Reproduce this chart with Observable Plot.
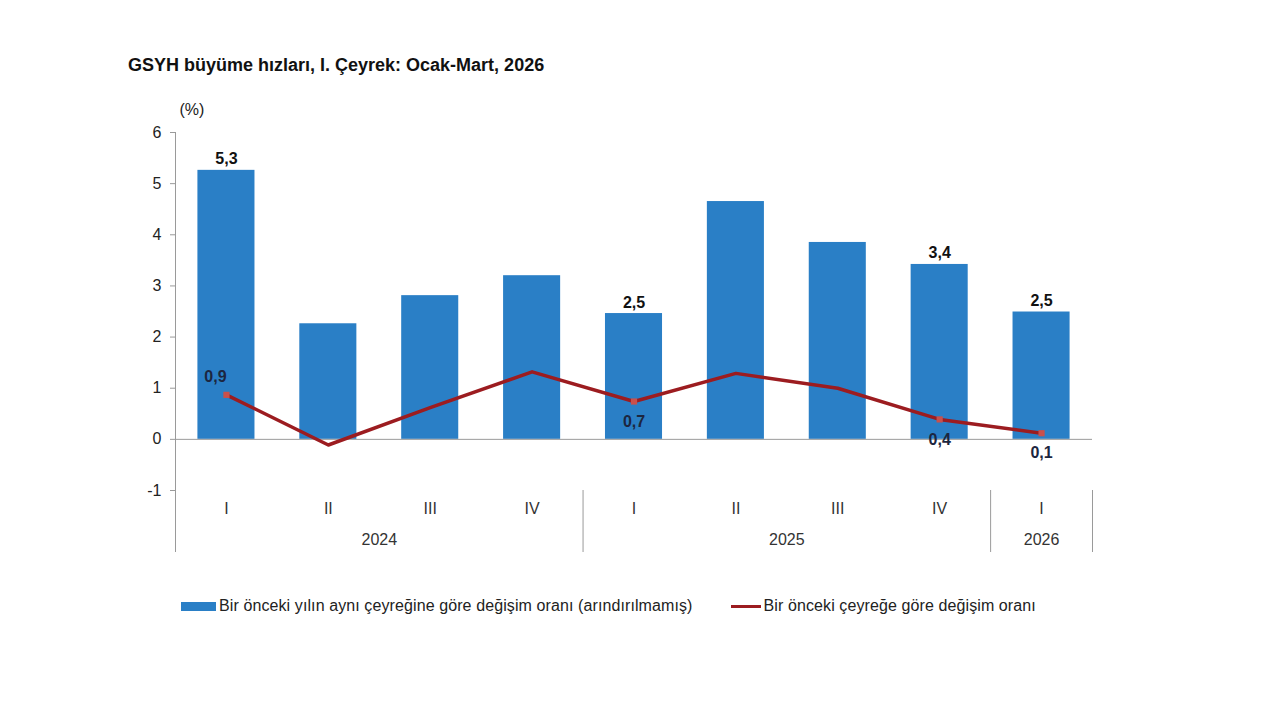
<!DOCTYPE html>
<html>
<head>
<meta charset="utf-8">
<script src="https://cdn.jsdelivr.net/npm/d3@7"></script>
<script src="https://cdn.jsdelivr.net/npm/@observablehq/plot@0.6"></script>
<style>
  html, body { margin: 0; padding: 0; background: #fff; }
  #wrap { position: relative; width: 1280px; height: 720px; font-family: Arial, "Liberation Sans", sans-serif; }
  #title { position: absolute; left: 128px; top: 55px; font-size: 18px; font-weight: bold; color: #111; }
  #chart { position: absolute; left: 0; top: 0; }
  #legend { position: absolute; left: 181px; top: 597px; font-size: 16px; color: #222; display: flex; align-items: center; }
  .sw { display: inline-block; margin-right: 3px; }
</style>
</head>
<body>
<div id="wrap">
  <div id="chart"></div>
  <div id="title">GSYH büyüme hızları, I. Çeyrek: Ocak-Mart, 2026</div>
  <div id="legend">
    <span class="sw" style="width:35px;height:9px;background:#2a7fc6"></span>
    <span style="letter-spacing:0.1px">Bir önceki yılın aynı çeyreğine göre değişim oranı (arındırılmamış)</span>
    <span class="sw" style="width:30px;height:3px;background:#9c1c20;margin-left:38px"></span>
    <span style="letter-spacing:0.1px">Bir önceki çeyreğe göre değişim oranı</span>
  </div>
</div>
<script>
const quarters = ["I", "II", "III", "IV", "I", "II", "III", "IV", "I"];
const years = ["2024", "2025", "2026"];
const yearStart = [0, 4, 8];
const yearEnd = [4, 8, 9];
const annualChange = [5.26, 2.26, 2.81, 3.20, 2.46, 4.65, 3.85, 3.42, 2.49];
const quarterlyChange = [0.87, -0.11, 0.62, 1.32, 0.74, 1.29, 1.00, 0.39, 0.12];
const labeled = [0, 4, 7, 8];
const yTicks = [-1, 0, 1, 2, 3, 4, 5, 6];

const fmt = v => v.toFixed(1).replace(".", ",");
const data = quarters.map((q, i) => ({i, q, bar: annualChange[i], line: quarterlyChange[i]}));
const lab = data.filter(d => labeled.includes(d.i));
const yearData = years.map((y, k) => ({y, mid: (yearStart[k] + yearEnd[k]) / 2}));
const bounds = [0, ...yearEnd];

const chart = Plot.plot({
  width: 1280,
  height: 720,
  marginLeft: 175,
  marginRight: 188,
  marginTop: 132,
  marginBottom: 230,
  style: {fontFamily: "Arial, 'Liberation Sans', sans-serif", fontSize: "16px", color: "#222"},
  x: {domain: [0, 9], axis: null, label: null},
  y: {domain: [-1, 6], axis: null, label: null},
  marks: [
    Plot.rect(data, {x1: d => d.i + 0.22, x2: d => d.i + 0.78, y1: 0, y2: "bar", fill: "#2a7fc6"}),
    Plot.ruleY([0], {stroke: "#9a9a9a", strokeWidth: 1}),
    Plot.ruleX([0], {stroke: "#9a9a9a", strokeWidth: 1}),
    Plot.axisY({ticks: yTicks, tickSize: 5, tickPadding: 9, tickFormat: d => String(d), stroke: "#9a9a9a", fontSize: 16, fill: "#222", label: null}),
    Plot.axisX({ticks: bounds, tickSize: 62, tickFormat: () => "", stroke: "#9a9a9a", label: null}),
    Plot.text(data, {x: d => d.i + 0.5, frameAnchor: "bottom", dy: 23, text: "q", fontSize: 16, fill: "#333"}),
    Plot.text(yearData, {x: "mid", frameAnchor: "bottom", dy: 54, text: "y", fontSize: 16, fill: "#333"}),
    Plot.text(["(%)"], {frameAnchor: "top-left", dx: 4, dy: -29, fontSize: 16, fill: "#222"}),
    Plot.line(data, {x: d => d.i + 0.5, y: "line", stroke: "#9c1c20", strokeWidth: 3.5, strokeLinejoin: "round"}),
    Plot.dot(lab, {x: d => d.i + 0.5, y: "line", symbol: "square", r: 3.5, fill: "#c9504c"}),
    Plot.text(lab, {x: d => d.i + 0.5, y: "bar", text: d => fmt(d.bar), lineAnchor: "bottom", dy: -6, fontSize: 16, fontWeight: "bold", fill: "#111"}),
    Plot.text(lab.slice(0, 1), {x: d => d.i + 0.5, y: "line", text: d => fmt(d.line), dx: -11, dy: -18, fontSize: 16, fontWeight: "bold", fill: "#1c2640"}),
    Plot.text(lab.slice(1), {x: d => d.i + 0.5, y: "line", text: d => fmt(d.line), dy: 20, fontSize: 16, fontWeight: "bold", fill: "#1c2640"})
  ]
});
document.getElementById("chart").append(chart);
</script>
</body>
</html>
